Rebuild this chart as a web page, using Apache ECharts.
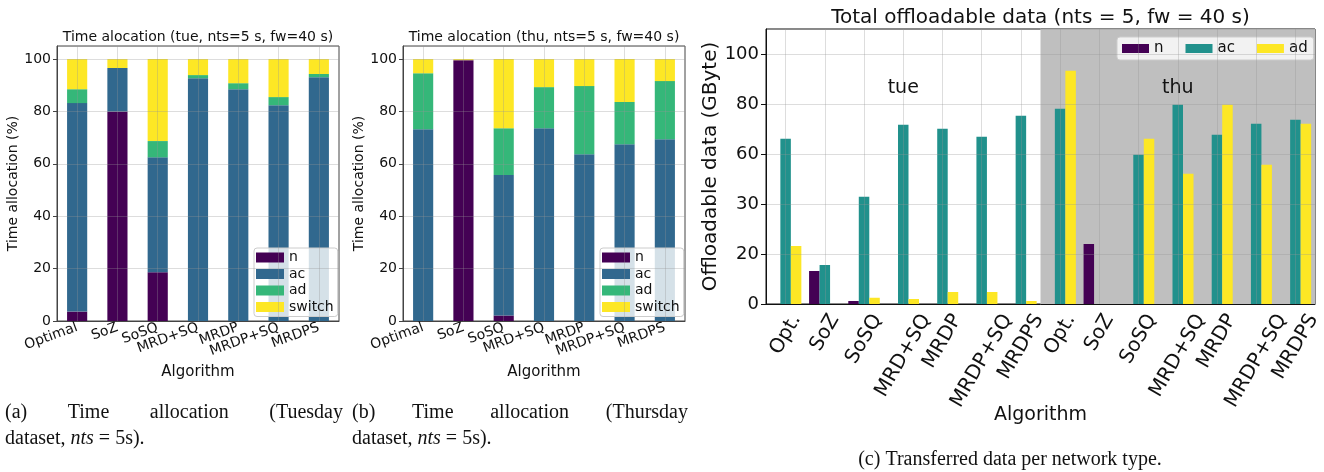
<!DOCTYPE html>
<html><head><meta charset="utf-8">
<script src="https://cdn.jsdelivr.net/npm/echarts@6/dist/echarts.min.js"></script>
<style>html,body{margin:0;padding:0;background:#fff}#c{width:1324px;height:472px}</style>
</head><body><div id="c"></div>
<script>
// ---------- data ----------
const algorithms = ['Optimal', 'SoZ', 'SoSQ', 'MRD+SQ', 'MRDP', 'MRDP+SQ', 'MRDPS'];
const algorithmsShort = ['Opt.', 'SoZ', 'SoSQ', 'MRD+SQ', 'MRDP', 'MRDP+SQ', 'MRDPS'];
const days = ['tue', 'thu'];

// time allocation (%) - Tuesday
const tueN      = [3.6, 80.0, 18.6, 0, 0, 0, 0];
const tueAc     = [79.6, 16.6, 43.9, 92.7, 88.5, 82.4, 93.1];
const tueAd     = [5.3, 0, 6.2, 1.2, 2.3, 3.1, 1.2];
const tueSwitch = [11.5, 3.4, 31.3, 6.1, 9.2, 14.5, 5.7];
// time allocation (%) - Thursday
const thuN      = [0, 99.6, 2.1, 0, 0, 0, 0];
const thuAc     = [73.2, 0, 53.6, 73.6, 63.7, 67.5, 69.4];
const thuAd     = [21.4, 0, 17.9, 15.7, 26.0, 16.1, 22.2];
const thuSwitch = [5.4, 0.4, 26.4, 10.7, 10.3, 16.4, 8.4];

// offloadable data (GByte): tue (7) then thu (7)
const offN  = [0, 13.2, 1.2, 0, 0, 0, 0,   0, 24.0, 0, 0, 0, 0, 0];
const offAc = [66.1, 15.6, 42.9, 71.7, 70.1, 66.9, 75.3,   78.1, 0, 59.7, 79.7, 67.7, 72.1, 73.7];
const offAd = [23.2, 0, 2.5, 2.0, 4.8, 4.8, 1.2,   93.3, 0, 66.1, 52.1, 79.7, 55.7, 72.1];

const yTickValuesC = [0, 20, 40, 60, 80, 100];
const yTickLabelsC = ['0', '20', '30', '60', '80', '100'];

const allocNames = ['n', 'ac', 'ad', 'switch'];
const offNames = ['n', 'ac', 'ad'];

// ---------- styling ----------
const FONT = 'DejaVu Sans';
const SERIF = 'Liberation Serif';
const allocColors = ['#440154', '#31688e', '#35b779', '#fde725'];
const offColors = ['#440154', '#21918c', '#fde725'];
const gridLine = {show: true, lineStyle: {color: 'rgba(150,150,150,0.32)', width: 1}};

const gA = {left: 57, top: 46, width: 282, height: 275};
const gB = {left: 403, top: 46, width: 282, height: 275};
const gC = {left: 766, top: 29, width: 549, height: 275};
const C_LABEL_SIZE = 20;
const C_LABEL_ROT = 60;

const catsC = [];
days.forEach(d => algorithmsShort.forEach(a => catsC.push(d + '|' + a)));

function allocXAxis(gi) {
  return {
    type: 'category', gridIndex: gi, data: algorithms, z: 5,
    axisLine: {lineStyle: {color: '#444'}},
    axisTick: {alignWithLabel: true, length: 4, lineStyle: {color: '#444'}},
    axisLabel: {rotate: 20, fontSize: 14, color: '#111', fontFamily: FONT, margin: 6, interval: 0},
    splitLine: Object.assign({alignWithLabel: true, interval: 0}, gridLine),
    name: 'Algorithm', nameLocation: 'middle', nameGap: 43,
    nameTextStyle: {fontSize: 15, color: '#111', fontFamily: FONT}
  };
}
function allocYAxis(gi, gap) {
  return {
    type: 'value', gridIndex: gi, min: 0, max: 105, interval: 20, z: 5,
    axisLine: {show: true, onZero: false, lineStyle: {color: '#444'}},
    axisTick: {show: true, length: 4, lineStyle: {color: '#444'}},
    axisLabel: {fontSize: 14, color: '#111', fontFamily: FONT, margin: 6, showMaxLabel: false},
    splitLine: gridLine,
    name: 'Time allocation (%)', nameLocation: 'middle', nameGap: gap,
    nameTextStyle: {fontSize: 14, color: '#111', fontFamily: FONT}
  };
}
function allocLegend(left) {
  return {
    orient: 'vertical', left: left, top: 248, icon: 'rect',
    itemWidth: 28, itemHeight: 10, itemGap: 1.5, selectedMode: false,
    textStyle: {fontSize: 14, color: '#111', fontFamily: FONT, lineHeight: 15},
    backgroundColor: 'rgba(255,255,255,0.8)', borderColor: '#ccc', borderWidth: 1, borderRadius: 3,
    padding: [2, 4, 2, 2],
    data: allocNames.map((n, i) => ({name: n, itemStyle: {color: allocColors[i]}}))
  };
}

const series = [];
const tueSets = [tueN, tueAc, tueAd, tueSwitch];
const thuSets = [thuN, thuAc, thuAd, thuSwitch];
allocNames.forEach((n, i) => {
  series.push({name: n, type: 'bar', stack: 'tue', xAxisIndex: 0, yAxisIndex: 0,
    barWidth: '50%', itemStyle: {color: allocColors[i]}, data: tueSets[i]});
});
allocNames.forEach((n, i) => {
  series.push({name: n, type: 'bar', stack: 'thu', xAxisIndex: 1, yAxisIndex: 1,
    barWidth: '50%', itemStyle: {color: allocColors[i]}, data: thuSets[i]});
});
// background day regions for chart (c)
series.push({
  type: 'line', xAxisIndex: 3, yAxisIndex: 2, data: [], z: 1, silent: true,
  markArea: {
    silent: true,
    label: {show: true, position: 'insideTop', distance: 50, fontSize: 19, color: '#111', fontFamily: FONT},
    data: [
      [{name: days[0], xAxis: -0.5, itemStyle: {color: 'rgba(0,0,0,0)'}}, {xAxis: algorithmsShort.length - 0.5}],
      [{name: days[1], xAxis: algorithmsShort.length - 0.5, itemStyle: {color: '#bfbfbf'}}, {xAxis: catsC.length - 0.5}]
    ]
  }
});
const offSets = [offN, offAc, offAd];
offNames.forEach((n, i) => {
  series.push({name: n, type: 'bar', xAxisIndex: 2, yAxisIndex: 2, z: 2,
    barWidth: 10.5, barGap: '0%', itemStyle: {color: offColors[i]}, data: offSets[i]});
});

// ---------- captions / titles ----------
const meas = document.createElement('canvas').getContext('2d');
function justified(words, x0, x1, y, size) {
  meas.font = size + 'px "' + SERIF + '"';
  const widths = words.map(w => meas.measureText(w).width);
  const total = widths.reduce((a, b) => a + b, 0);
  const gap = (x1 - x0 - total) / (words.length - 1);
  let x = x0;
  return words.map((w, i) => {
    const el = {type: 'text', left: x, top: y, style: {text: w, font: size + 'px "' + SERIF + '"', fill: '#111'}};
    x += widths[i] + gap;
    return el;
  });
}
function mathLine(x, y, size) {
  return {type: 'text', left: x, top: y, style: {
    text: '{a|dataset, }{i|nts}{a| = 5s).}',
    rich: {a: {fontFamily: SERIF, fontSize: size, fill: '#111'},
           i: {fontFamily: SERIF, fontSize: size, fontStyle: 'italic', fill: '#111'}}
  }};
}
function titleText(text, cx, cy, size) {
  return {type: 'text', x: cx, y: cy, style: {text: text, fontFamily: FONT, fontSize: size, fill: '#111', align: 'center', verticalAlign: 'middle'}};
}

const graphic = [
  titleText('Time alocation (' + days[0] + ', nts=5 s, fw=40 s)', gA.left + gA.width / 2, 37, 14),
  titleText('Time alocation (' + days[1] + ', nts=5 s, fw=40 s)', gB.left + gB.width / 2, 37, 14),
  titleText('Total offloadable data (nts = 5, fw = 40 s)', gC.left + gC.width / 2, 18, 20),
  ...justified(['(a)', 'Time', 'allocation', '(Tuesday'], 5, 343, 403, 20),
  mathLine(5, 429, 20),
  ...justified(['(b)', 'Time', 'allocation', '(Thursday'], 352, 688, 403, 20),
  mathLine(352, 429, 20),
  {type: 'text', x: 1010, y: 460, style: {text: '(c) Transferred data per network type.', font: '20px "' + SERIF + '"', fill: '#111', align: 'center', verticalAlign: 'middle'}}
];

const option = {
  animation: false,
  backgroundColor: '#fff',
  textStyle: {fontFamily: FONT},
  grid: [
    Object.assign({show: true, borderColor: '#444', borderWidth: 1, backgroundColor: 'transparent'}, gA),
    Object.assign({show: true, borderColor: '#444', borderWidth: 1, backgroundColor: 'transparent'}, gB),
    Object.assign({show: true, borderColor: '#111', borderWidth: 1, backgroundColor: 'transparent'}, gC)
  ],
  legend: [
    allocLegend(254),
    allocLegend(600),
    {
      orient: 'horizontal', left: 1117, top: 37, width: 200, icon: 'rect',
      itemWidth: 27, itemHeight: 9, itemGap: 22, selectedMode: false,
      textStyle: {fontSize: 15, color: '#111', fontFamily: FONT},
      backgroundColor: 'rgba(255,255,255,0.8)', borderColor: '#ccc', borderWidth: 1, borderRadius: 3,
      padding: [4, 6, 4, 5],
      data: offNames.map((n, i) => ({name: n, itemStyle: {color: offColors[i]}}))
    }
  ],
  xAxis: [
    allocXAxis(0),
    allocXAxis(1),
    {
      type: 'category', gridIndex: 2, data: catsC, z: 5,
      axisLine: {lineStyle: {color: '#111'}},
      axisTick: {alignWithLabel: true, length: 5, lineStyle: {color: '#111'}},
      axisLabel: {show: false},
      splitLine: Object.assign({alignWithLabel: true, interval: 0}, gridLine),
      name: 'Algorithm', nameLocation: 'middle', nameGap: 102,
      nameTextStyle: {fontSize: 19, color: '#111', fontFamily: FONT}
    },
    {type: 'value', gridIndex: 2, min: -0.5, max: catsC.length - 0.5, show: false}
  ],
  yAxis: [
    allocYAxis(0, 31),
    allocYAxis(1, 32),
    {
      type: 'value', gridIndex: 2, min: 0, max: 110, interval: 20, z: 5,
      axisLine: {show: true, onZero: false, lineStyle: {color: '#111'}},
      axisTick: {show: true, length: 5, lineStyle: {color: '#111'}},
      axisLabel: {fontSize: 18, color: '#111', fontFamily: FONT, margin: 7, showMaxLabel: false,
        formatter: v => { const k = yTickValuesC.indexOf(v); return k >= 0 ? yTickLabelsC[k] : ''; }},
      splitLine: gridLine,
      name: 'Offloadable data (GByte)', nameLocation: 'middle', nameGap: 44,
      nameTextStyle: {fontSize: 20, color: '#111', fontFamily: FONT}
    }
  ],
  series: series
};

const chart = echarts.init(document.getElementById('c'), null, {renderer: 'canvas'});
chart.setOption(option);

// chart (c) category labels: rotated, bounding box centred under each tick (from the axis scale)
const th = C_LABEL_ROT * Math.PI / 180;
meas.font = C_LABEL_SIZE + 'px "' + FONT + '"';
const axisY = chart.convertToPixel({yAxisIndex: 2}, 0);
const cLabels = catsC.map(c => {
  const txt = c.split('|')[1];
  const tickX = chart.convertToPixel({xAxisIndex: 2}, c);
  const L = meas.measureText(txt).width;
  const h = C_LABEL_SIZE;
  const px = tickX - (h * Math.sin(th) - L * Math.cos(th)) / 2;
  return {type: 'text', x: px, y: axisY + 7, rotation: th,
    style: {text: txt, fontFamily: FONT, fontSize: C_LABEL_SIZE, fill: '#111', align: 'right', verticalAlign: 'top'}};
});
chart.setOption({graphic: graphic.concat(cLabels)});
</script>
</body></html>
